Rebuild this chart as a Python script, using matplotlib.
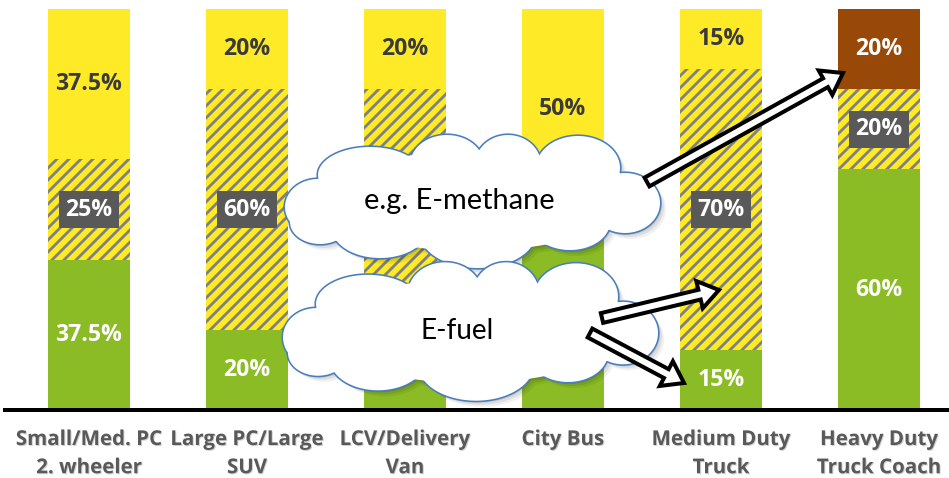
import os
import numpy as np
import matplotlib
matplotlib.use("Agg")
import matplotlib.pyplot as plt
from matplotlib import font_manager as fm
from matplotlib.patches import PathPatch, FancyArrow
from matplotlib.path import Path
from matplotlib.collections import LineCollection
import matplotlib.patheffects as pe


def font_file(names):
    files = {os.path.basename(f.fname): f.fname for f in fm.fontManager.ttflist}
    for nm in names:
        if nm in files:
            return fm.FontProperties(fname=files[nm])
    return fm.FontProperties(family='DejaVu Sans', weight='bold')


BOLD = font_file(['OpenSans-Bold.ttf', 'Roboto-Bold.ttf', 'Lato-Bold.ttf'])
plt.rcParams['font.family'] = ['Lato', 'DejaVu Sans']

# share of each powertrain/fuel option per vehicle segment (%)
categories = ["Small/Med. PC\n2. wheeler", "Large PC/Large\nSUV", "LCV/Delivery\nVan",
              "City Bus", "Medium Duty\nTruck", "Heavy Duty\nTruck Coach"]
green = [37.5, 20, 20, 50, 15, 60]
hatched = [25, 60, 60, 0, 70, 20]
yellow = [37.5, 20, 20, 50, 15, 0]
brown = [0, 0, 0, 0, 0, 20]

YELLOW = '#FFEA28'
GREEN = '#8BBB25'
BROWN = '#984807'
GRAY = '#808080'
BOX = '#595959'
BLUE = '#4A7EBB'

W, H = 949, 478
fig = plt.figure(figsize=(W / 72, H / 72), dpi=72)

# overlay in pixel coordinates (used for stripes and the callouts)
ov = fig.add_axes([0, 0, 1, 1], zorder=2)
ov.set_xlim(0, W)
ov.set_ylim(H, 0)
ov.axis('off')

# main bar axes, laid out in pixel terms
x0, y0, y1 = 5, 410, 9
ax = fig.add_axes([x0 / W, (H - y0) / H, (W - x0) / W, (y0 - y1) / H], zorder=1)
x = np.arange(len(categories))
bw = 0.52
g = np.array(green); h = np.array(hatched); yl = np.array(yellow); br = np.array(brown)

ax.bar(x, g, bw, color=GREEN, lw=0)
hb = ax.bar(x, h, bw, bottom=g, color=YELLOW, lw=0)
ax.bar(x, yl, bw, bottom=g + h, color=YELLOW, lw=0)
ax.bar(x, br, bw, bottom=g + h + yl, color=BROWN, lw=0)

# diagonal grey stripes on the mixed segment, 12 px apart
for p in hb.patches:
    if p.get_height() == 0:
        continue
    segs = [[(c, H), (c + H, 0)] for c in np.arange(-H, W, 12)]
    lc = LineCollection(segs, colors=GRAY, linewidths=2.8, transform=ov.transData, zorder=1.5)
    ax.add_collection(lc, autolim=False)
    lc.set_clip_path(p)


def pct(v):
    return f"{v:g}%"


lab = dict(ha='center', va='center', fontproperties=BOLD, fontsize=23)
for i in x:
    if g[i]:
        ax.text(i, g[i] / 2, pct(g[i]), color='white', **lab)
    if h[i]:
        ax.text(i, g[i] + h[i] / 2, pct(h[i]), color='white',
                bbox=dict(boxstyle='square,pad=0.28', fc=BOX, ec='none'), **lab)
    if yl[i]:
        ax.text(i, g[i] + h[i] + yl[i] / 2, pct(yl[i]), color='#3A3A3A', **lab)
    if br[i]:
        ax.text(i, g[i] + h[i] + yl[i] + br[i] / 2, pct(br[i]), color='white', **lab)

ax.set_xlim((x0 - 89) / 158, (W - 89) / 158)
ax.set_ylim(0, 100)
for s in ['top', 'left', 'right']:
    ax.spines[s].set_visible(False)
ax.spines['bottom'].set_linewidth(4)
ax.spines['bottom'].set_color('black')
ax.set_yticks([])
ax.set_xticks(x)
ax.set_xticklabels(categories, color='#595959', linespacing=1.45)
ax.tick_params(axis='x', length=0, pad=19)
for t in ax.get_xticklabels():
    t.set_fontproperties(BOLD)
    t.set_fontsize(20.5)
    t.set_path_effects([pe.SimplePatchShadow(offset=(1, -1), alpha=0.2), pe.Normal()])
ax.patch.set_alpha(0)

# cloud lobes relative to the cloud centre: dx, dy, rx, ry
LOBES = [(-154, 6, 33, 28), (-102, -26, 52, 28), (-25, -36, 37, 30), (36, -36, 33, 30),
         (106, -33, 42, 32), (153, 2, 35, 30), (98, 21, 40, 28), (6, 32, 58, 35),
         (-92, 27, 48, 30), (-152, 21, 30, 22), (0, 0, 150, 50)]


def ellipse_path(cx, cy, rx, ry):
    t = np.linspace(0, 2 * np.pi, 80)
    v = np.c_[cx + rx * np.cos(t), cy + ry * np.sin(t)]
    return Path(v, closed=True)


def cloud(cx, cy, sy, text, size):
    parts = [ellipse_path(cx + dx, cy + dy * sy, rx, ry * sy) for dx, dy, rx, ry in LOBES]
    union = Path.make_compound_path(*parts)
    for off, al in [(6, 0.06), (4, 0.08), (2, 0.1)]:
        sh = Path(union.vertices + [off, off], union.codes)
        ov.add_patch(PathPatch(sh, fc='black', ec='none', alpha=al))
    for p in parts[:-1]:
        ov.add_patch(PathPatch(p, fc='none', ec=BLUE, lw=3.2))
    ov.add_patch(PathPatch(union, fc='white', ec='none'))
    ov.text(cx - 13, cy, text, ha='center', va='center', fontsize=size, color='black')


cloud(472, 201, 1.0, "e.g. E-methane", 29)
cloud(470, 331, 1.04, "E-fuel", 28)


def arrow(xa, ya, xb, yb):
    ov.add_patch(FancyArrow(xa, ya, xb - xa, yb - ya, width=10, head_width=28, head_length=20,
                            length_includes_head=True, fc='white', ec='black', lw=4,
                            joinstyle='miter'))


arrow(647, 182, 843, 73)
arrow(602, 318, 719, 290)
arrow(590, 333, 684, 383)

fig.savefig('out.png', dpi=72)
